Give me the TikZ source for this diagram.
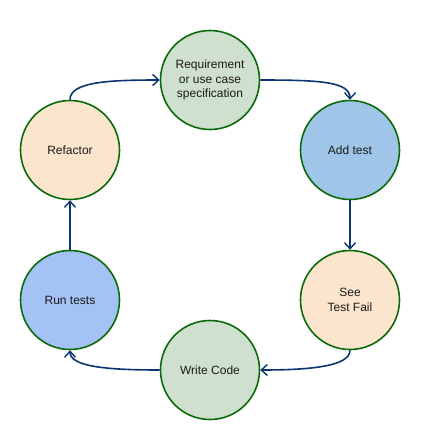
\documentclass[tikz,border=0pt]{standalone}
\usepackage{fontspec}
\setmainfont{Liberation Sans}
\usetikzlibrary{arrows.meta}
\definecolor{cgreen}{HTML}{D0E0CE}
\definecolor{cblue}{HTML}{9FC5E8}
\definecolor{cperi}{HTML}{A4C2F4}
\definecolor{cpeach}{HTML}{FCE5CD}
\definecolor{cborder}{HTML}{0A6A0A}
\definecolor{carrow}{HTML}{0B3570}
\definecolor{ctext}{HTML}{1A1A1A}
\tikzset{
  stage/.style={circle, draw=cborder, line width=1.6pt, minimum size=99pt, inner sep=0pt,
    align=center, text=ctext, font=\fontsize{12}{14.5}\selectfont},
  flow/.style={draw=carrow, line width=1.6pt,
    -{Straight Barb[length=6pt,width=11pt,line width=1.4pt]}}
}
\begin{document}
\begin{tikzpicture}[x=1pt,y=-1pt]
\useasboundingbox (0,0) rectangle (426,440);
\node[stage, fill=cgreen] (req) at (210,80) {Requirement\\or use case\\specification};
\node[stage, fill=cblue] (add) at (350,150) {Add test};
\node[stage, fill=cpeach] (fail) at (350,300) {See\\Test Fail};
\node[stage, fill=cgreen] (code) at (210,370) {Write Code};
\node[stage, fill=cperi] (run) at (70,300) {Run tests};
\node[stage, fill=cpeach] (ref) at (70,150) {Refactor};
\draw[flow] (req.east) .. controls +(60,0) and +(0,-18) .. (add.north);
\draw[flow] (add.south) -- (fail.north);
\draw[flow] (fail.south) .. controls +(0,16) and +(50,0) .. (code.east);
\draw[flow] (code.west) .. controls +(-55,0) and +(0,16) .. (run.south);
\draw[flow] (run.north) -- (ref.south);
\draw[flow] (ref.north) .. controls +(0,-18) and +(-50,0) .. (req.west);
\end{tikzpicture}
\end{document}
